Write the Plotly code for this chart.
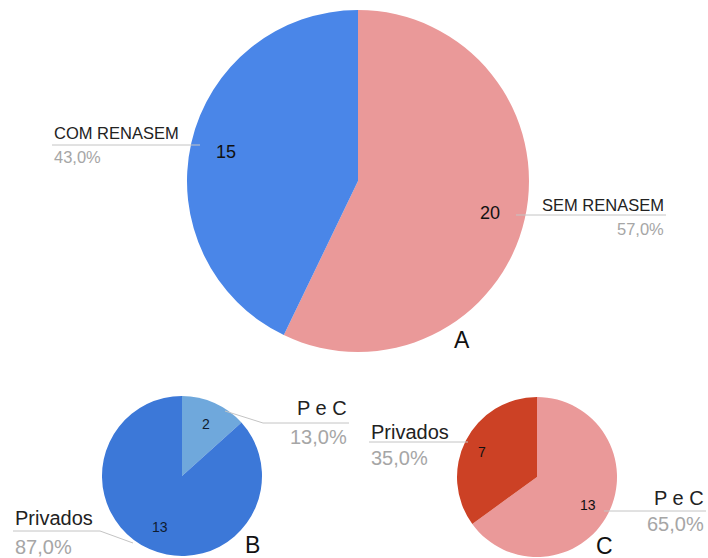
import plotly.graph_objects as go

W, H = 708, 558
FONT = "Liberation Sans, Arial, sans-serif"

# Chart A: RENASEM registration
a_labels = ["SEM RENASEM", "COM RENASEM"]
a_values = [20, 15]
a_pct = ["57,0%", "43,0%"]
a_colors = ["#ea9999", "#4a86e8"]

# Chart B
b_labels = ["P e C", "Privados"]
b_values = [2, 13]
b_pct = ["13,0%", "87,0%"]
b_colors = ["#6fa8dc", "#3c78d8"]

# Chart C
c_labels = ["P e C", "Privados"]
c_values = [13, 7]
c_pct = ["65,0%", "35,0%"]
c_colors = ["#ea9999", "#cc4125"]

panel_letters = ["A", "B", "C"]


def px(x):
    return x / W


def py(y):
    return 1 - y / H


def domain(cx, cy, r):
    return dict(x=[px(cx - r), px(cx + r)], y=[py(cy + r), py(cy - r)])


fig = go.Figure()
for labels, values, colors, dom in [
    (a_labels, a_values, a_colors, domain(358, 181, 171)),
    (b_labels, b_values, b_colors, domain(182, 476, 80)),
    (c_labels, c_values, c_colors, domain(537, 477, 80)),
]:
    fig.add_trace(go.Pie(
        labels=labels, values=values, sort=False, direction="clockwise",
        rotation=0, marker=dict(colors=colors, line=dict(width=0)),
        textinfo="none", hoverinfo="label+value+percent",
        domain=dom, showlegend=False,
    ))

annotations = []
shapes = []


def text(x, y, s, size, color, anchor="left"):
    annotations.append(dict(
        x=px(x), y=py(y), xref="paper", yref="paper", text=s, showarrow=False,
        xanchor=anchor, yanchor="middle",
        font=dict(family=FONT, size=size, color=color),
    ))


def line(points):
    for (x0, y0), (x1, y1) in zip(points[:-1], points[1:]):
        shapes.append(dict(
            type="line", xref="paper", yref="paper",
            x0=px(x0), y0=py(y0), x1=px(x1), y1=py(y1),
            line=dict(color="#c4c4c4", width=1),
        ))


DARK = "#222222"
GREY = "#a6a6a6"

# Chart A labels
text(52, 133, a_labels[1], 16.5, DARK)
text(52, 157, a_pct[1], 16.5, GREY)
line([(52, 145), (200, 145)])
text(226, 152, str(a_values[1]), 18, "#111111", "center")

text(666, 205, a_labels[0], 16.5, DARK, "right")
text(666, 229, a_pct[0], 16.5, GREY, "right")
line([(516, 215), (666, 215)])
text(490, 213, str(a_values[0]), 18, "#111111", "center")

# Chart B labels
text(349, 408, b_labels[0], 20, DARK, "right")
text(349, 437, b_pct[0], 20, GREY, "right")
line([(225, 411), (263, 423), (349, 423)])
text(206, 424, str(b_values[0]), 14, "#0f1c30", "center")

text(13, 518, b_labels[1], 20, DARK)
text(13, 547, b_pct[1], 20, GREY)
line([(13, 531), (100, 531), (133, 543)])
text(160, 527, str(b_values[1]), 14, "#0f1c30", "center")

# Chart C labels
text(369, 432, c_labels[1], 20, DARK)
text(369, 458, c_pct[1], 20, GREY)
line([(369, 442), (468, 442)])
text(482, 452, str(c_values[1]), 14, "#111111", "center")

text(706, 498, c_labels[0], 20, DARK, "right")
text(706, 524, c_pct[0], 20, GREY, "right")
line([(604, 511), (706, 511)])
text(588, 505, str(c_values[0]), 14, "#111111", "center")

# Panel letters
for letter, (x, y) in zip(panel_letters, [(462, 340), (252, 545), (604, 546)]):
    text(x, y, letter, 23, "#111111", "center")

fig.update_layout(
    width=W, height=H, margin=dict(l=0, r=0, t=0, b=0),
    paper_bgcolor="white", plot_bgcolor="white",
    annotations=annotations, shapes=shapes,
)

fig.write_html("out.html")
